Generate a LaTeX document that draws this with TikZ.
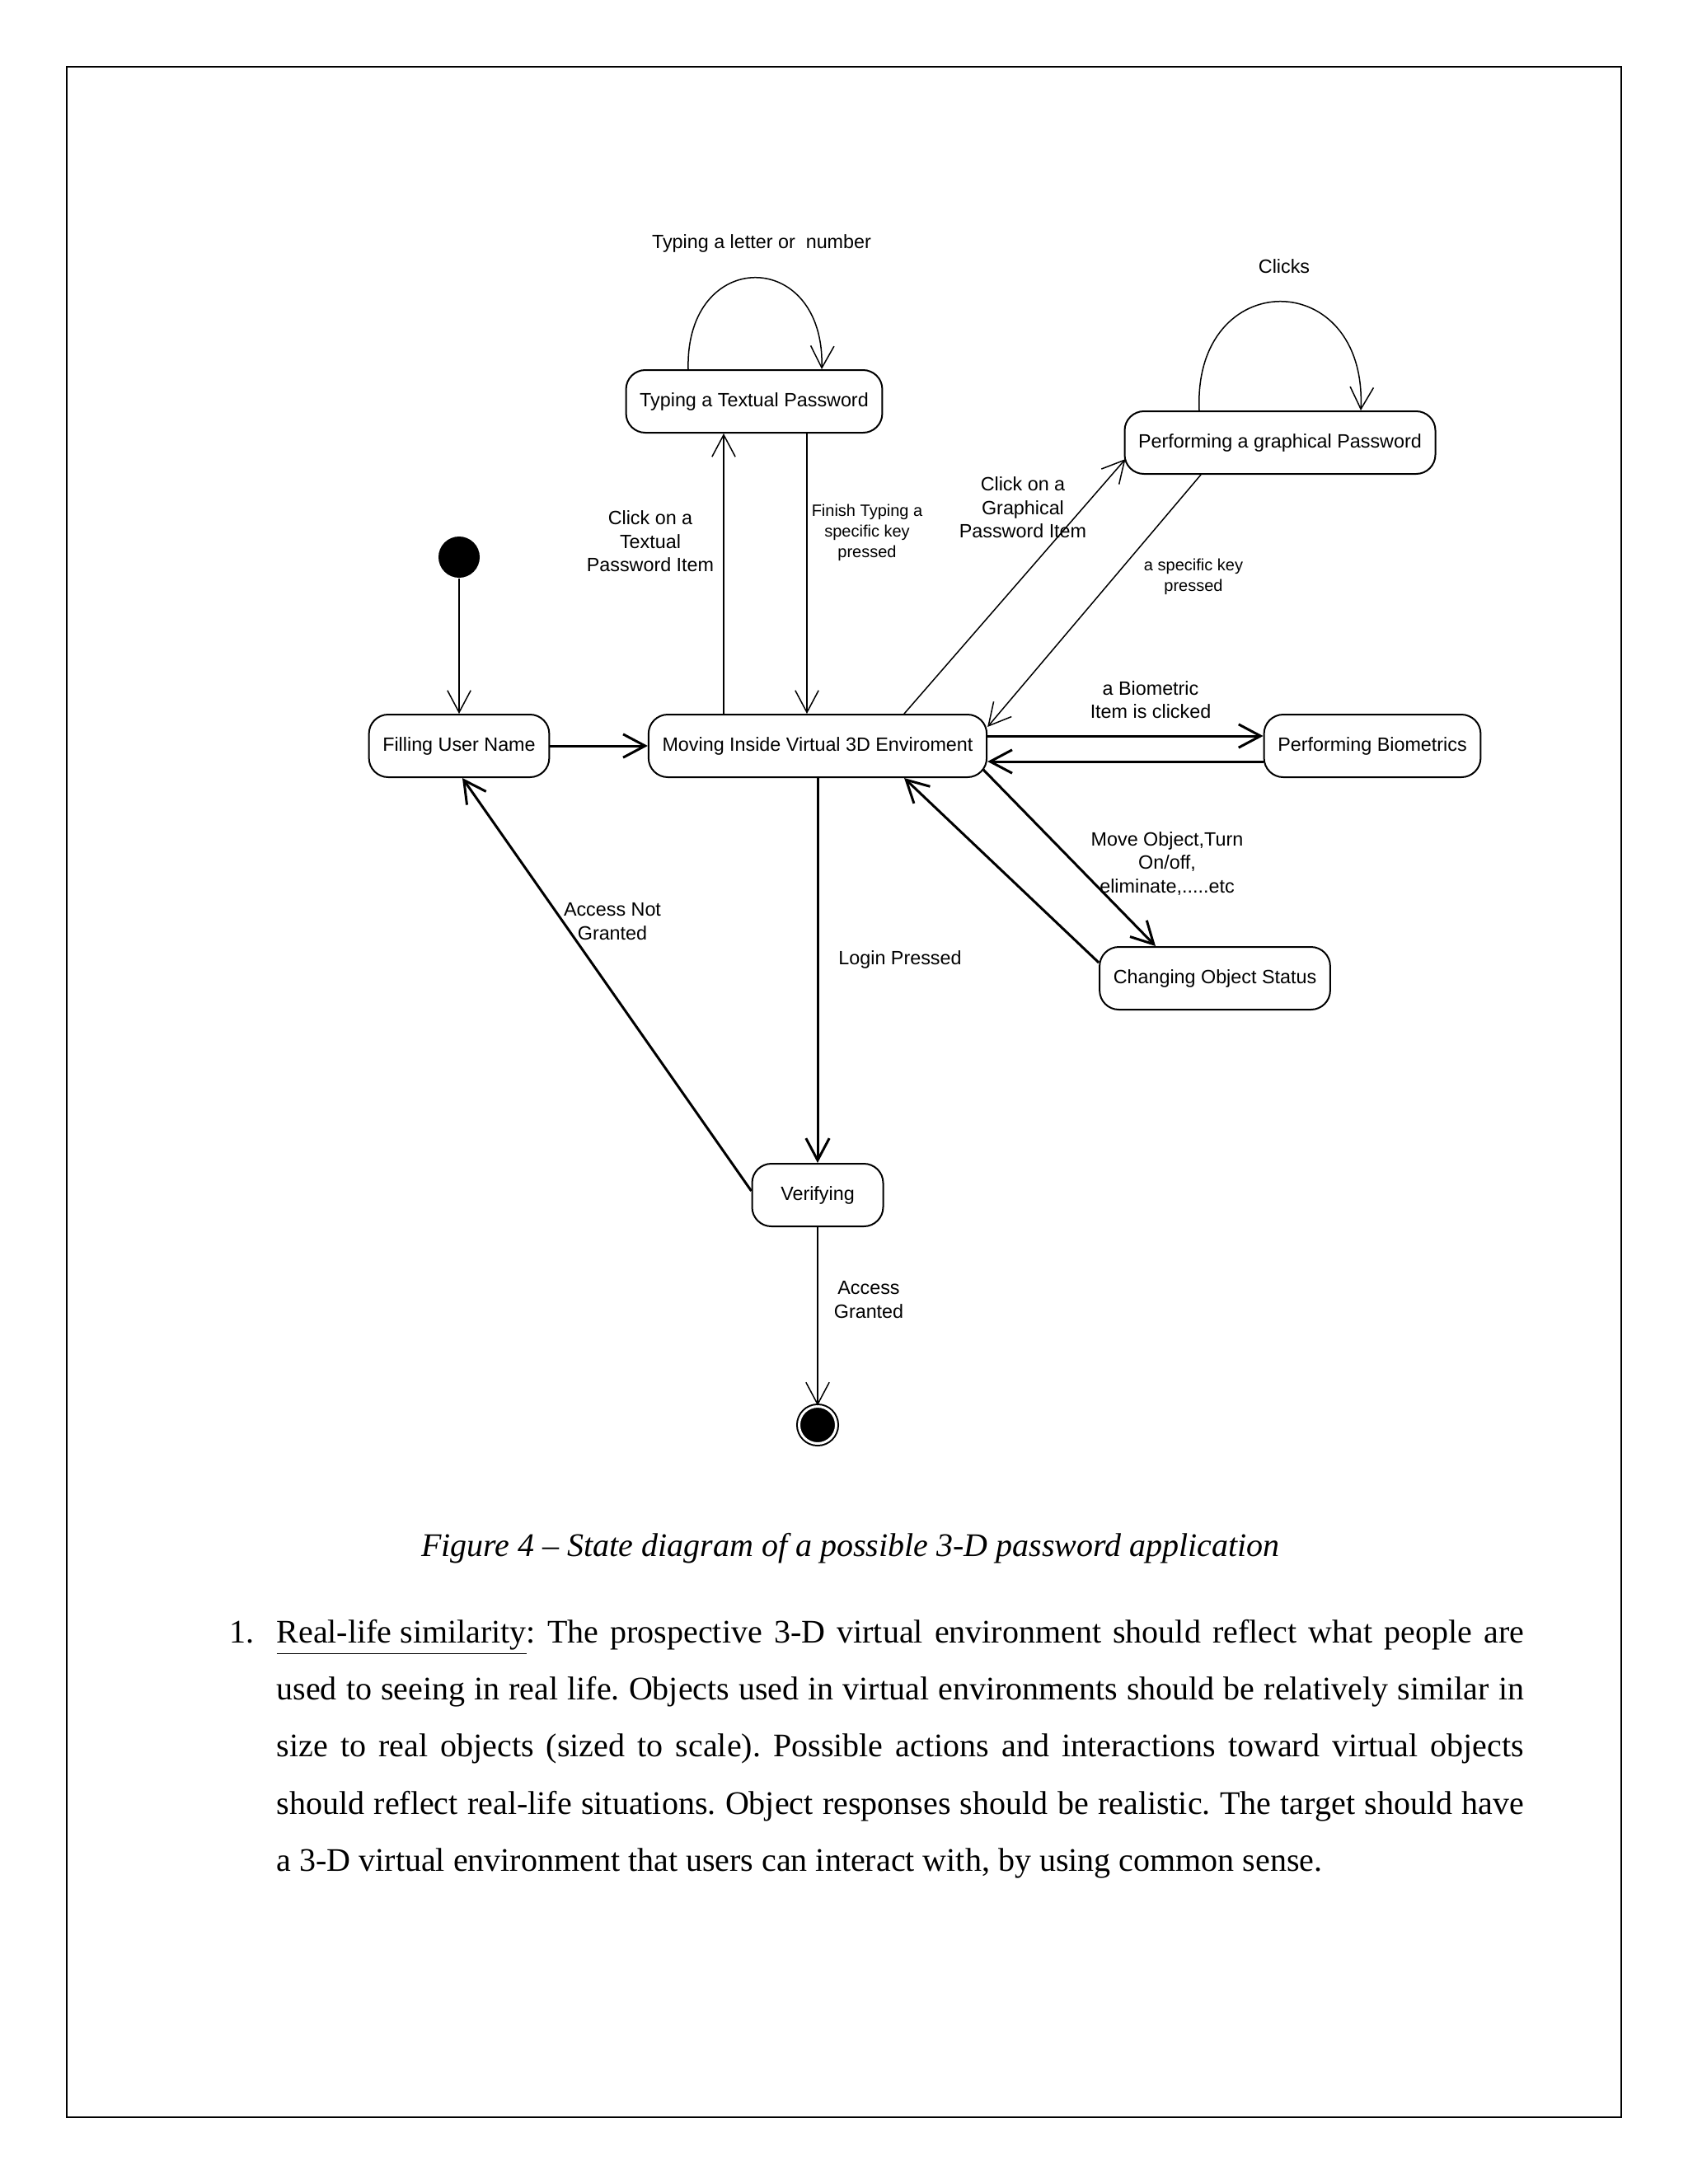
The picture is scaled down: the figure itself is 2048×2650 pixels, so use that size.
\documentclass[tikz,border=0pt]{standalone}
\usepackage{fontspec}
\setmainfont{Liberation Serif}
\newfontfamily\diagfont{Liberation Sans}
\usetikzlibrary{%
        arrows.meta,
        calc
    }
\frenchspacing
\tikzset{%
    statebox/.style={%
        draw, line width=0.6pt, rounded corners=7pt,
        minimum height=22.8pt, inner xsep=5pt, inner ysep=0pt,
        font=\diagfont\fontsize{7pt}{8.5pt}\selectfont
    },
    guard/.style={%
        align=center, inner sep=0pt,
        font=\diagfont\fontsize{7pt}{8.55pt}\selectfont
    },
    smallguard/.style={%
        guard, font=\diagfont\fontsize{6pt}{7.5pt}\selectfont
    },
    trans/.style={%
        -{Straight Barb[length=8pt, width=8.5pt]}, line width=0.45pt
    },
    boldtrans/.style={%
        trans, line width=0.9pt
    }
}

\begin{document}
\begin{tikzpicture}[x=0.3pt, y=-0.3pt]
    \useasboundingbox (0, 0) rectangle (2048, 2650);

    % Page frame
    \draw[line width=0.75pt] (81, 81) rectangle (1967, 2569);

    % States
    \node[circle, fill=black, minimum size=15pt, inner sep=0pt] (init) at (557, 676) {};
    \node[statebox] (filling) at (557, 905) {Filling User Name};
    \node[statebox] (moving) at (992, 905) {Moving Inside Virtual 3D Enviroment};
    \node[statebox] (textual) at (915, 487) {Typing a Textual Password};
    \node[statebox] (graphical) at (1553, 537) {Performing a graphical Password};
    \node[statebox] (biometrics) at (1665, 905) {Performing Biometrics};
    \node[statebox] (changing) at (1474, 1187) {Changing Object Status};
    \node[statebox, minimum width=47.7pt] (verifying) at (992, 1450) {Verifying};
    \node[circle, draw, fill=black, double=white, double distance=0.9pt,
          line width=0.6pt, minimum size=13.5pt, inner sep=0pt] (final) at (992, 1729) {};

    % Transitions
    \draw[trans] (init) -- (filling);
    \draw[boldtrans] (filling) -- (moving);
    \draw[trans] ($(moving.north)+(-114, 0)$) -- ($(textual.south)+(-37, 0)$);
    \draw[trans] ($(textual.south)+(64, 0)$) -- ($(moving.north)+(-13, 0)$);
    \draw[trans] ($(textual.north)+(-80, 0)$)
        .. controls +(-4, -148) and +(4, -148) .. ($(textual.north)+(82, 0)$);
    \draw[trans] ($(moving.north)+(105, 0)$) -- ($(graphical.south west)+(2, -19)$);
    \draw[trans] ($(graphical.south)+(-96, 0)$) -- ($(moving.north east)+(0, 16)$);
    \draw[trans] ($(graphical.north)+(-98, 0)$)
        .. controls +(-8, -176) and +(8, -176) .. ($(graphical.north)+(98, 0)$);
    \draw[boldtrans] ($(moving.east)+(0, -12)$) -- ($(biometrics.west)+(0, -12)$);
    \draw[boldtrans] ($(biometrics.west)+(0, 19)$) -- ($(moving.east)+(0, 19)$);
    \draw[boldtrans] ($(moving.south east)+(-5, -10)$) -- ($(changing.north)+(-72, 0)$);
    \draw[boldtrans] ($(changing.north west)+(0, 20)$) -- ($(moving.south)+(105, 0)$);
    \draw[boldtrans] (moving) -- (verifying);
    \draw[boldtrans] ($(verifying.west)+(0, -5)$) -- ($(filling.south)+(4, 0)$);
    \draw[trans] (verifying) -- (final);

    % Guards
    \node[guard] (typeloop) at (924, 295) {Typing a letter or \ number};
    \node[guard] (clicks) at (1558, 323) {Clicks};
    \node[guard] (clicktext) at (789, 657) {Click on a\\Textual\\Password Item};
    \node[smallguard] (finishtext) at (1052, 646) {Finish Typing a\\specific key\\pressed};
    \node[guard] (clickgraph) at (1241, 616) {Click on a\\Graphical\\Password Item};
    \node[smallguard] (keygraph) at (1448, 700) {a specific key\\pressed};
    \node[guard] (clickbio) at (1396, 849) {a Biometric\\Item is clicked};
    \node[guard] (moveobj) at (1416, 1048) {Move Object,Turn\\On/off,\\eliminate,.....etc};
    \node[guard] (login) at (1092, 1164) {Login Pressed};
    \node[guard] (denied) at (743, 1118) {Access Not\\Granted};
    \node[guard] (granted) at (1054, 1577) {Access\\Granted};

    % Caption and text
    \node[anchor=base, font=\fontsize{12pt}{14pt}\selectfont\itshape] (caption) at (1032, 1888)
        {Figure 4 -- State diagram of a possible 3-D password application};
    \node[anchor=base west, text width=454pt, inner sep=0pt, align=justify,
          font=\fontsize{12pt}{20.8pt}\selectfont] (item) at (335, 1993)
        {\hyphenpenalty=10000 \exhyphenpenalty=10000
         \noindent\llap{\makebox[17.1pt][l]{1.}}\underline{Real-life similarity}: The prospective
         3-D virtual environment should reflect what people are\linebreak
         used to seeing in real life. Objects used in virtual environments should be
         relatively similar in\linebreak
         size to real objects (sized to scale). Possible actions and interactions toward
         virtual objects\linebreak
         should reflect real-life situations. Object responses should be realistic. The
         target should have\linebreak
         a 3-D virtual environment that users can interact with, by using common sense.};

\end{tikzpicture}
\end{document}
